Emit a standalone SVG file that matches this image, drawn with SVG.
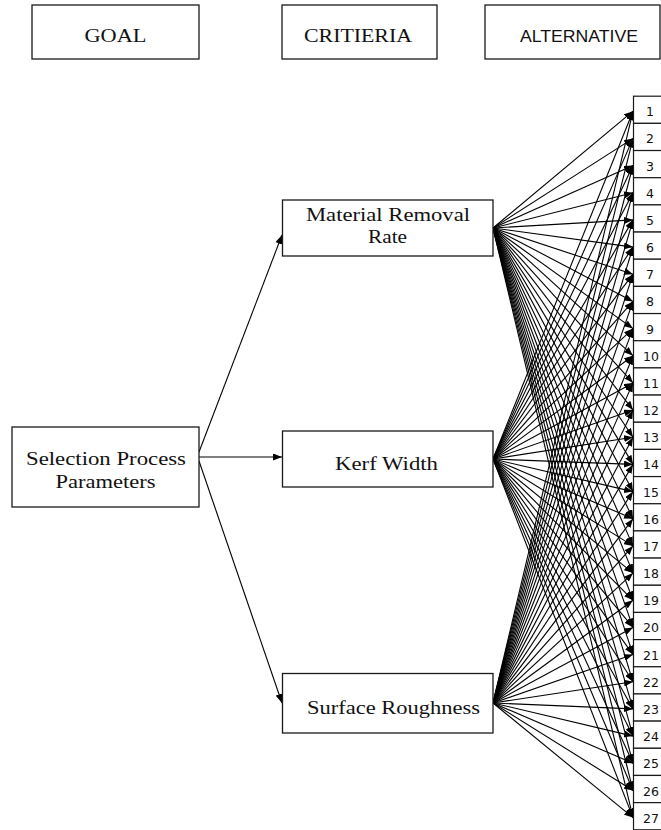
<svg xmlns="http://www.w3.org/2000/svg" width="661" height="830" viewBox="0 0 661 830">
<style>
.box{fill:#fff;stroke:#1a1a1a;stroke-width:1.3}
.alt{fill:#fff;stroke:#1a1a1a;stroke-width:1.2}
.ser{font-family:"Liberation Serif","DejaVu Serif",serif;font-size:18.5px;fill:#111;text-anchor:middle}
.san{font-family:"Liberation Sans",Arial,sans-serif;font-size:17px;fill:#111}
.num{font-family:"DejaVu Sans","Liberation Sans",sans-serif;font-size:12.5px;fill:#111}
.c{stroke:#000;stroke-width:1.1;fill:none;marker-end:url(#ah)}
</style>
<defs>
<marker id="ah" markerUnits="userSpaceOnUse" markerWidth="9" markerHeight="7" refX="9" refY="3.5" orient="auto">
<path d="M0,0 L9,3.5 L0,7 z" fill="#000"/>
</marker>
</defs>
<rect width="661" height="830" fill="#fff"/>
<g id="hdr-goal"><rect class="box" x="32" y="5" width="167" height="54"/><text class="ser" x="115.5" y="41.5" textLength="62" lengthAdjust="spacingAndGlyphs">GOAL</text></g>
<g id="hdr-criteria"><rect class="box" x="282" y="5" width="155" height="54"/><text class="ser" x="358" y="41.5" textLength="108" lengthAdjust="spacingAndGlyphs">CRITIERIA</text></g>
<g id="hdr-alternative"><rect class="box" x="485" y="5" width="175" height="54"/><text class="san" x="520" y="41.5" textLength="118" lengthAdjust="spacingAndGlyphs">ALTERNATIVE</text></g>
<g id="connectors">
<line class="c" x1="199" y1="452" x2="282" y2="235"/>
<line class="c" x1="199" y1="457" x2="282" y2="457"/>
<line class="c" x1="199" y1="461" x2="282" y2="703"/>
<line class="c" x1="493" y1="228" x2="633" y2="111.2"/><line class="c" x1="493" y1="228" x2="633" y2="138.4"/><line class="c" x1="493" y1="228" x2="633" y2="165.5"/><line class="c" x1="493" y1="228" x2="633" y2="192.7"/><line class="c" x1="493" y1="228" x2="633" y2="219.9"/><line class="c" x1="493" y1="228" x2="633" y2="247.1"/><line class="c" x1="493" y1="228" x2="633" y2="274.2"/><line class="c" x1="493" y1="228" x2="633" y2="301.4"/><line class="c" x1="493" y1="228" x2="633" y2="328.6"/><line class="c" x1="493" y1="228" x2="633" y2="355.7"/><line class="c" x1="493" y1="228" x2="633" y2="382.9"/><line class="c" x1="493" y1="228" x2="633" y2="410.1"/><line class="c" x1="493" y1="228" x2="633" y2="437.2"/><line class="c" x1="493" y1="228" x2="633" y2="464.4"/><line class="c" x1="493" y1="228" x2="633" y2="491.6"/><line class="c" x1="493" y1="228" x2="633" y2="518.8"/><line class="c" x1="493" y1="228" x2="633" y2="545.9"/><line class="c" x1="493" y1="228" x2="633" y2="573.1"/><line class="c" x1="493" y1="228" x2="633" y2="600.3"/><line class="c" x1="493" y1="228" x2="633" y2="627.4"/><line class="c" x1="493" y1="228" x2="633" y2="654.6"/><line class="c" x1="493" y1="228" x2="633" y2="681.8"/><line class="c" x1="493" y1="228" x2="633" y2="708.9"/><line class="c" x1="493" y1="228" x2="633" y2="736.1"/><line class="c" x1="493" y1="228" x2="633" y2="763.3"/><line class="c" x1="493" y1="228" x2="633" y2="790.5"/><line class="c" x1="493" y1="228" x2="633" y2="817.6"/>
<line class="c" x1="493" y1="459" x2="633" y2="111.2"/><line class="c" x1="493" y1="459" x2="633" y2="138.4"/><line class="c" x1="493" y1="459" x2="633" y2="165.5"/><line class="c" x1="493" y1="459" x2="633" y2="192.7"/><line class="c" x1="493" y1="459" x2="633" y2="219.9"/><line class="c" x1="493" y1="459" x2="633" y2="247.1"/><line class="c" x1="493" y1="459" x2="633" y2="274.2"/><line class="c" x1="493" y1="459" x2="633" y2="301.4"/><line class="c" x1="493" y1="459" x2="633" y2="328.6"/><line class="c" x1="493" y1="459" x2="633" y2="355.7"/><line class="c" x1="493" y1="459" x2="633" y2="382.9"/><line class="c" x1="493" y1="459" x2="633" y2="410.1"/><line class="c" x1="493" y1="459" x2="633" y2="437.2"/><line class="c" x1="493" y1="459" x2="633" y2="464.4"/><line class="c" x1="493" y1="459" x2="633" y2="491.6"/><line class="c" x1="493" y1="459" x2="633" y2="518.8"/><line class="c" x1="493" y1="459" x2="633" y2="545.9"/><line class="c" x1="493" y1="459" x2="633" y2="573.1"/><line class="c" x1="493" y1="459" x2="633" y2="600.3"/><line class="c" x1="493" y1="459" x2="633" y2="627.4"/><line class="c" x1="493" y1="459" x2="633" y2="654.6"/><line class="c" x1="493" y1="459" x2="633" y2="681.8"/><line class="c" x1="493" y1="459" x2="633" y2="708.9"/><line class="c" x1="493" y1="459" x2="633" y2="736.1"/><line class="c" x1="493" y1="459" x2="633" y2="763.3"/><line class="c" x1="493" y1="459" x2="633" y2="790.5"/><line class="c" x1="493" y1="459" x2="633" y2="817.6"/>
<line class="c" x1="493" y1="703" x2="633" y2="111.2"/><line class="c" x1="493" y1="703" x2="633" y2="138.4"/><line class="c" x1="493" y1="703" x2="633" y2="165.5"/><line class="c" x1="493" y1="703" x2="633" y2="192.7"/><line class="c" x1="493" y1="703" x2="633" y2="219.9"/><line class="c" x1="493" y1="703" x2="633" y2="247.1"/><line class="c" x1="493" y1="703" x2="633" y2="274.2"/><line class="c" x1="493" y1="703" x2="633" y2="301.4"/><line class="c" x1="493" y1="703" x2="633" y2="328.6"/><line class="c" x1="493" y1="703" x2="633" y2="355.7"/><line class="c" x1="493" y1="703" x2="633" y2="382.9"/><line class="c" x1="493" y1="703" x2="633" y2="410.1"/><line class="c" x1="493" y1="703" x2="633" y2="437.2"/><line class="c" x1="493" y1="703" x2="633" y2="464.4"/><line class="c" x1="493" y1="703" x2="633" y2="491.6"/><line class="c" x1="493" y1="703" x2="633" y2="518.8"/><line class="c" x1="493" y1="703" x2="633" y2="545.9"/><line class="c" x1="493" y1="703" x2="633" y2="573.1"/><line class="c" x1="493" y1="703" x2="633" y2="600.3"/><line class="c" x1="493" y1="703" x2="633" y2="627.4"/><line class="c" x1="493" y1="703" x2="633" y2="654.6"/><line class="c" x1="493" y1="703" x2="633" y2="681.8"/><line class="c" x1="493" y1="703" x2="633" y2="708.9"/><line class="c" x1="493" y1="703" x2="633" y2="736.1"/><line class="c" x1="493" y1="703" x2="633" y2="763.3"/><line class="c" x1="493" y1="703" x2="633" y2="790.5"/><line class="c" x1="493" y1="703" x2="633" y2="817.6"/>
</g>
<g id="goal"><rect class="box" x="12" y="427" width="187" height="80"/><text class="ser" x="106" y="465" textLength="160" lengthAdjust="spacingAndGlyphs">Selection Process</text><text class="ser" x="105.5" y="488" textLength="100" lengthAdjust="spacingAndGlyphs">Parameters</text></g>
<g id="mrr"><rect class="box" x="282.5" y="200" width="210.5" height="56"/><text class="ser" x="388" y="221" textLength="164" lengthAdjust="spacingAndGlyphs">Material Removal</text><text class="ser" x="387.5" y="243" textLength="39" lengthAdjust="spacingAndGlyphs">Rate</text></g>
<g id="kerf"><rect class="box" x="282.5" y="431" width="210.5" height="56"/><text class="ser" x="386.5" y="470" textLength="103" lengthAdjust="spacingAndGlyphs">Kerf Width</text></g>
<g id="sr"><rect class="box" x="282.5" y="673.5" width="210.5" height="59.5"/><text class="ser" x="393.5" y="714" textLength="173" lengthAdjust="spacingAndGlyphs">Surface Roughness</text></g>
<g id="a1"><rect class="alt" x="633.5" y="96.2" width="40" height="27.17"/><text class="num" x="646" y="116.2">1</text></g>
<g id="a2"><rect class="alt" x="633.5" y="123.37" width="40" height="27.17"/><text class="num" x="646" y="143.4">2</text></g>
<g id="a3"><rect class="alt" x="633.5" y="150.54" width="40" height="27.17"/><text class="num" x="646" y="170.5">3</text></g>
<g id="a4"><rect class="alt" x="633.5" y="177.71" width="40" height="27.17"/><text class="num" x="646" y="197.7">4</text></g>
<g id="a5"><rect class="alt" x="633.5" y="204.88" width="40" height="27.17"/><text class="num" x="646" y="224.9">5</text></g>
<g id="a6"><rect class="alt" x="633.5" y="232.05" width="40" height="27.17"/><text class="num" x="646" y="252.1">6</text></g>
<g id="a7"><rect class="alt" x="633.5" y="259.22" width="40" height="27.17"/><text class="num" x="646" y="279.2">7</text></g>
<g id="a8"><rect class="alt" x="633.5" y="286.39" width="40" height="27.17"/><text class="num" x="646" y="306.4">8</text></g>
<g id="a9"><rect class="alt" x="633.5" y="313.56" width="40" height="27.17"/><text class="num" x="646" y="333.6">9</text></g>
<g id="a10"><rect class="alt" x="633.5" y="340.73" width="40" height="27.17"/><text class="num" x="643" y="360.7">10</text></g>
<g id="a11"><rect class="alt" x="633.5" y="367.9" width="40" height="27.17"/><text class="num" x="643" y="387.9">11</text></g>
<g id="a12"><rect class="alt" x="633.5" y="395.07" width="40" height="27.17"/><text class="num" x="643" y="415.1">12</text></g>
<g id="a13"><rect class="alt" x="633.5" y="422.24" width="40" height="27.17"/><text class="num" x="643" y="442.2">13</text></g>
<g id="a14"><rect class="alt" x="633.5" y="449.41" width="40" height="27.17"/><text class="num" x="643" y="469.4">14</text></g>
<g id="a15"><rect class="alt" x="633.5" y="476.58" width="40" height="27.17"/><text class="num" x="643" y="496.6">15</text></g>
<g id="a16"><rect class="alt" x="633.5" y="503.75" width="40" height="27.17"/><text class="num" x="643" y="523.8">16</text></g>
<g id="a17"><rect class="alt" x="633.5" y="530.92" width="40" height="27.17"/><text class="num" x="643" y="550.9">17</text></g>
<g id="a18"><rect class="alt" x="633.5" y="558.09" width="40" height="27.17"/><text class="num" x="643" y="578.1">18</text></g>
<g id="a19"><rect class="alt" x="633.5" y="585.26" width="40" height="27.17"/><text class="num" x="643" y="605.3">19</text></g>
<g id="a20"><rect class="alt" x="633.5" y="612.43" width="40" height="27.17"/><text class="num" x="643" y="632.4">20</text></g>
<g id="a21"><rect class="alt" x="633.5" y="639.6" width="40" height="27.17"/><text class="num" x="643" y="659.6">21</text></g>
<g id="a22"><rect class="alt" x="633.5" y="666.77" width="40" height="27.17"/><text class="num" x="643" y="686.8">22</text></g>
<g id="a23"><rect class="alt" x="633.5" y="693.94" width="40" height="27.17"/><text class="num" x="643" y="713.9">23</text></g>
<g id="a24"><rect class="alt" x="633.5" y="721.11" width="40" height="27.17"/><text class="num" x="643" y="741.1">24</text></g>
<g id="a25"><rect class="alt" x="633.5" y="748.28" width="40" height="27.17"/><text class="num" x="643" y="768.3">25</text></g>
<g id="a26"><rect class="alt" x="633.5" y="775.45" width="40" height="27.17"/><text class="num" x="643" y="795.5">26</text></g>
<g id="a27"><rect class="alt" x="633.5" y="802.62" width="40" height="27.17"/><text class="num" x="643" y="822.6">27</text></g>
</svg>
